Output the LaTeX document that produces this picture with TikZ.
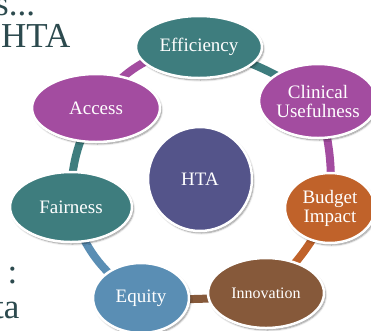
\documentclass[tikz,border=0pt]{standalone}
\usepackage{fontspec}
\setmainfont{Liberation Serif}
\usetikzlibrary{shapes.geometric,shadows.blur,backgrounds}

\definecolor{tealc}{RGB}{62,125,126}
\definecolor{purplec}{RGB}{163,76,160}
\definecolor{orangec}{RGB}{192,98,42}
\definecolor{brownc}{RGB}{134,89,58}
\definecolor{bluec}{RGB}{90,142,180}
\definecolor{htac}{RGB}{84,84,138}
\definecolor{slidetext}{RGB}{44,74,78}

\tikzset{
  bubble/.style={ellipse, draw=white, line width=2.5pt, text=white,
    inner sep=0pt, align=center,
    blur shadow={shadow xshift=1.5pt, shadow yshift=-2pt,
      shadow blur steps=6, shadow opacity=45},
    font=\fontsize{19}{19}\selectfont},
  band/.style={line width=8pt},
  lefttext/.style={text=slidetext, inner sep=0pt,
    font=\fontsize{35}{40}\selectfont},
}

\begin{document}
\begin{tikzpicture}[x=1pt,y=1pt]
\useasboundingbox (0,0) rectangle (371,-330);
\clip (0,0) rectangle (371,-330);

% slide text partly hidden behind the cycle
\node[lefttext, anchor=base west] (t1) at (-5,-15) {s...};
\node[lefttext, anchor=base west] (t2) at (1,-47.5) {HTA};
\node[lefttext, anchor=base west] (t3) at (7.5,-283) {:};
\node[lefttext, anchor=base west] (t4) at (-6,-318) {ta};

% centre
\node[bubble, circle, fill=htac, minimum size=104pt] (hta) at (200,-179) {HTA};

% ring of criteria
\node[bubble, fill=tealc, minimum width=126pt, minimum height=62pt] (eff) at (199,-47) {Efficiency};
\node[bubble, fill=purplec, minimum width=112pt, minimum height=74pt] (cli) at (318,-101) {Clinical\\Usefulness};
\node[bubble, fill=orangec, minimum width=90pt, minimum height=70pt] (bud) at (330,-208) {Budget\\Impact};
\node[bubble, fill=brownc, minimum width=116pt, minimum height=70pt, font=\fontsize{16}{16}\selectfont] (inn) at (266,-293) {Innovation};
\node[bubble, fill=bluec, minimum width=96pt, minimum height=70pt] (equ) at (141,-298) {Equity};
\node[bubble, fill=tealc, minimum width=122pt, minimum height=70pt] (fai) at (71,-207) {Fairness};
\node[bubble, fill=purplec, minimum width=128pt, minimum height=68pt] (acc) at (96,-108) {Access};

% connecting bands behind the bubbles
\begin{pgfonlayer}{background}
\draw[band, tealc]   (eff.center) to[bend left=10] (cli.center);
\draw[band, purplec] (cli.center) to[bend left=10] (bud.center);
\draw[band, orangec] (bud.center) to[bend left=10] (inn.center);
\draw[band, brownc]  (inn.center) to[bend left=5]  (equ.center);
\draw[band, bluec]   (equ.center) to[bend left=20] (fai.center);
\draw[band, tealc]   (fai.center) to[bend left=15] (acc.center);
\draw[band, purplec] (acc.center) to[bend left=25] (eff.center);
\end{pgfonlayer}
\end{tikzpicture}
\end{document}
